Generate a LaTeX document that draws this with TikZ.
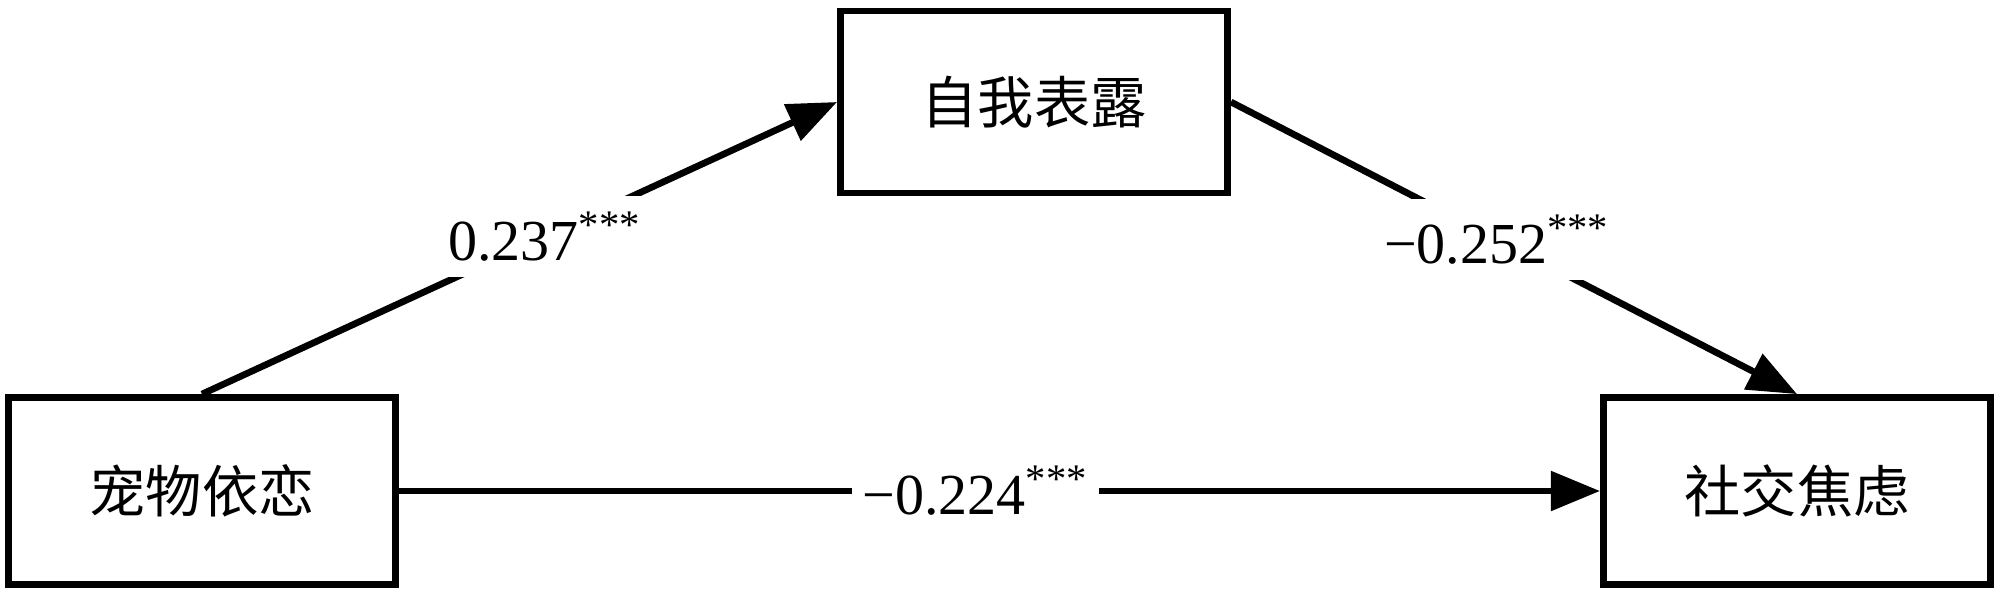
\documentclass[tikz,border=0pt]{standalone}
\usepackage{fontspec}
\setmainfont{Liberation Serif}
\newfontfamily\cjk{Noto Sans CJK SC}
\usepackage{tikz}
\usetikzlibrary{positioning, arrows.meta, calc}

\begin{document}
\begin{tikzpicture}[x=0.01cm, y=-0.01cm,
    varbox/.style={draw, line width=1.9pt, inner sep=0pt,
      minimum width=3.87cm, minimum height=1.87cm,
      font=\cjk\fontsize{16}{16}\selectfont},
    effect/.style={line width=1.9pt, -{Triangle[length=14pt, width=11pt]}},
    coef/.style={fill=white, inner xsep=3pt, inner ysep=4.5pt, font=\fontsize{16.5}{16.5}\selectfont}]
    \useasboundingbox (0,0) rectangle (2000,591);
    % the three variables
    \node[varbox] (pet) at (202,491) {宠物依恋};
    \node[varbox, minimum height=1.82cm] (self) at (1034,102) {自我表露};
    \node[varbox] (anx) at (1797,491) {社交焦虑};
    % paths
    \draw[effect] (pet.north) -- node[coef, pos=0.54] {0.237\textsuperscript{***}} (self.west);
    \draw[effect] (self.east) -- node[coef, pos=0.47] {−0.252\textsuperscript{***}} (anx.north);
    \draw[effect] (pet.east) -- node[coef, inner ysep=3pt, pos=0.48] {−0.224\textsuperscript{***}} (anx.west);
\end{tikzpicture}
\end{document}
